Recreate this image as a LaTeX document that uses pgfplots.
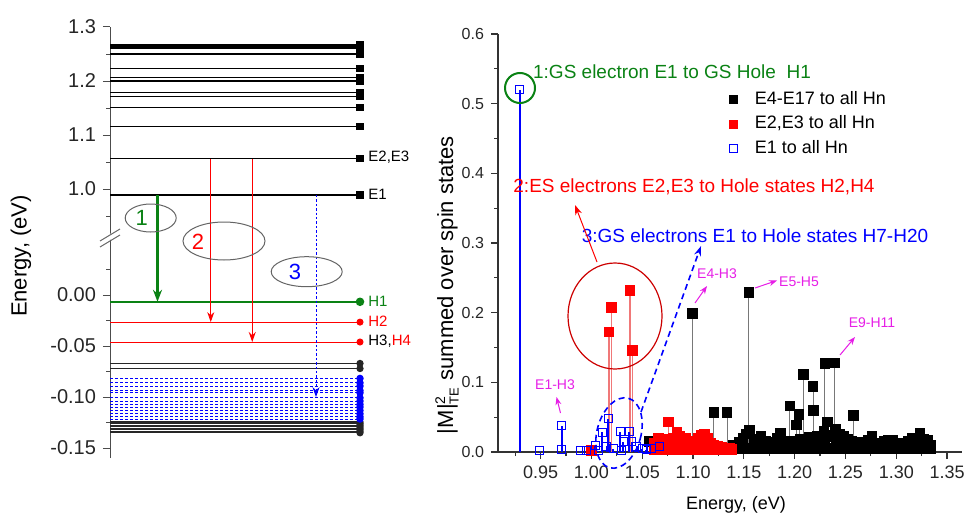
\documentclass[border=0pt]{standalone}
\usepackage{pgfplots}
\pgfplotsset{compat=1.18}
\usepackage{pgfplotstable}
\usepackage{fontspec}
\setmainfont{Liberation Sans}
\usetikzlibrary{arrows.meta}

\definecolor{dgreen}{RGB}{10,130,20}
\definecolor{mypink}{RGB}{230,30,230}
\definecolor{stemred}{RGB}{240,120,120}
\definecolor{stemgray}{RGB}{120,120,120}
\definecolor{ellgray}{RGB}{100,100,100}

% ---------- left panel: energy levels (eV) ----------
\pgfplotstableread[header=true]{
pos level
1 1.2675
1 1.2662
1 1.2649
1 1.2636
1 1.2623
1 1.2610
1 1.2597
1 1.2500
1 1.2230
1 1.2060
1 1.2000
1 1.1780
1 1.1720
1 1.1510
1 1.1160
1 1.0560
1 0.9890
}\elevels

\pgfplotstableread[header=true]{
pos level
1 -0.0265
1 -0.0460
}\hred

\pgfplotstableread[header=true]{
pos level
1 -0.0670
1 -0.0720
1 -0.1245
1 -0.1260
1 -0.1275
1 -0.1290
1 -0.1305
1 -0.1320
1 -0.1335
1 -0.1350
}\hblack

\pgfplotstableread[header=true]{
pos level
1 -0.0817
1 -0.0860
1 -0.0892
1 -0.0935
1 -0.0958
1 -0.1007
1 -0.1039
1 -0.1072
1 -0.1098
1 -0.1131
1 -0.1164
1 -0.1193
1 -0.1215
}\hblue

% ---------- right panel: |M|^2 vs transition energy ----------
\pgfplotstableread{
x y
1.1380 0.005
1.1420 0.005
1.1460 0.005
1.1500 0.005
1.1540 0.005
1.1580 0.005
1.1620 0.005
1.1660 0.005
1.1700 0.005
1.1740 0.005
1.1780 0.005
1.1820 0.005
1.1860 0.005
1.1900 0.005
1.1940 0.005
1.1980 0.005
1.2020 0.005
1.2060 0.005
1.2100 0.005
1.2140 0.005
1.2180 0.005
1.2220 0.005
1.2260 0.005
1.2300 0.005
1.2340 0.005
1.2380 0.005
1.2420 0.005
1.2460 0.005
1.2500 0.005
1.2540 0.005
1.2580 0.005
1.2620 0.005
1.2660 0.005
1.2700 0.005
1.2740 0.005
1.2780 0.005
1.2820 0.005
1.2860 0.005
1.2900 0.005
1.2940 0.005
1.2980 0.005
1.3020 0.005
1.3060 0.005
1.3100 0.005
1.3140 0.005
1.3180 0.005
1.3220 0.005
1.3260 0.005
1.3300 0.005
1.3340 0.005
1.1400 0.010
1.1450 0.014
1.1490 0.020
1.1520 0.026
1.1555 0.031
1.1600 0.018
1.1640 0.014
1.1670 0.022
1.1710 0.015
1.1750 0.012
1.1790 0.014
1.1830 0.020
1.1860 0.027
1.1900 0.015
1.1940 0.012
1.1980 0.016
1.2020 0.014
1.2060 0.018
1.2100 0.013
1.2140 0.021
1.2180 0.016
1.2220 0.022
1.2260 0.019
1.2290 0.030
1.2300 0.018
1.2325 0.043
1.2330 0.022
1.2360 0.024
1.2400 0.032
1.2410 0.018
1.2440 0.026
1.2480 0.022
1.2520 0.018
1.2560 0.016
1.2600 0.014
1.2640 0.012
1.2680 0.014
1.2720 0.017
1.2760 0.022
1.2800 0.012
1.2840 0.010
1.2880 0.016
1.2920 0.017
1.2960 0.017
1.3000 0.012
1.3040 0.010
1.3080 0.012
1.3120 0.016
1.3160 0.019
1.3200 0.013
1.3233 0.027
1.3240 0.015
1.3270 0.018
1.3310 0.017
1.3340 0.010
1.0572 0.015
1.0992 0.199
1.1204 0.057
1.1335 0.057
1.1549 0.229
1.1952 0.066
1.2018 0.039
1.2044 0.054
1.2084 0.111
1.2182 0.094
1.2185 0.060
1.2297 0.127
1.2389 0.128
1.2578 0.052
}\blackdata

\pgfplotstableread{
x y
1.0000 0.002
1.0172 0.172
1.0199 0.207
1.0380 0.232
1.0402 0.146
1.0620 0.004
1.0660 0.004
1.0700 0.004
1.0740 0.004
1.0780 0.004
1.0820 0.004
1.0860 0.004
1.0900 0.004
1.0940 0.004
1.0980 0.004
1.1020 0.004
1.1060 0.004
1.1100 0.004
1.1140 0.004
1.1180 0.004
1.1220 0.004
1.1260 0.004
1.1300 0.004
1.1340 0.004
1.1380 0.004
1.0620 0.012
1.0660 0.020
1.0700 0.018
1.0730 0.010
1.0757 0.043
1.0780 0.014
1.0810 0.020
1.0840 0.028
1.0850 0.016
1.0870 0.022
1.0900 0.016
1.0930 0.020
1.0960 0.014
1.0990 0.010
1.1020 0.015
1.1050 0.020
1.1080 0.024
1.1100 0.014
1.1110 0.026
1.1140 0.020
1.1170 0.013
1.1200 0.010
1.1240 0.008
1.1280 0.007
1.1320 0.006
1.1360 0.005
}\reddata

\pgfplotstableread{
x y
0.9296 0.520
0.9492 0.002
0.9707 0.003
0.9707 0.038
0.9887 0.002
0.9953 0.002
1.0040 0.010
1.0067 0.002
1.0106 0.028
1.0150 0.008
1.0166 0.048
1.0215 0.005
1.0281 0.029
1.0300 0.002
1.0314 0.015
1.0370 0.029
1.0396 0.015
1.0445 0.008
1.0500 0.005
1.0540 0.003
1.0590 0.005
1.0670 0.008
}\bluedata

\begin{document}
\begin{tikzpicture}
\useasboundingbox (0,0) rectangle (489pt,257.5pt);

% ================= LEFT PANEL =================
\begin{axis}[
  at={(55pt,28.5pt)}, anchor=south west,
  scale only axis, width=125pt, height=215.5pt,
  xmin=0, xmax=1, ymin=-0.1597, ymax=1.3,
  y coord trafo/.code={\pgfmathparse{(#1)>0.5 ? 540*(#1)-271 : 163+1020*(#1)}},
  axis x line=none, axis y line*=left,
  ytick={-0.15,-0.1,-0.05,0,1,1.1,1.2,1.3},
  yticklabels={-0.15,-0.10,-0.05,0.00,1.0,1.1,1.2,1.3},
  minor ytick={-0.125,-0.075,-0.025,0.025,0.95,1.05,1.15,1.25},
  tick align=outside, major tick length=3.5pt, minor tick length=2pt,
  axis line style={line width=0.5pt, black!70},
  every tick/.style={line width=0.5pt, black!70},
  yticklabel style={font=\fontsize{10}{12}\selectfont, text=black!85},
  /pgf/number format/assume math mode=true,
  clip=false,
]
\addplot[xcomb, black, line width=0.6pt, mark=square*, mark size=1.5pt, mark options={solid}] table[x=pos, y=level] {\elevels};
\addplot[xcomb, black!85, line width=0.6pt, mark=*, mark size=1.5pt] table[x=pos, y=level] {\hblack};
\addplot[xcomb, blue, line width=0.5pt, dash pattern=on 1.5pt off 1pt, mark=*, mark size=1.6pt, mark options={solid}] table[x=pos, y=level] {\hblue};
\addplot[xcomb, red, line width=0.5pt, mark=*, mark size=1.5pt] table[x=pos, y=level] {\hred};
\addplot[xcomb, dgreen, line width=1.2pt, mark=*, mark size=1.5pt] coordinates {(1,-0.0066)};
% transitions
\addplot[dgreen, line width=1.1pt, -{Stealth[length=6pt,width=4.5pt]}] coordinates {(0.19,0.989) (0.19,-0.0066)};
\addplot[red, line width=0.5pt, -{Stealth[length=5pt,width=3.5pt]}] coordinates {(0.403,1.056) (0.403,-0.0265)};
\addplot[red, line width=0.5pt, -{Stealth[length=5pt,width=3.5pt]}] coordinates {(0.569,1.056) (0.569,-0.046)};
\addplot[blue, line width=0.5pt, dash pattern=on 1.2pt off 1pt, -{Stealth[length=5pt,width=3.5pt]}] coordinates {(0.824,0.989) (0.824,-0.100)};
\end{axis}

% ================= RIGHT PANEL =================
\begin{axis}[
  at={(249pt,31.5pt)}, anchor=south west,
  scale only axis, width=232pt, height=209pt,
  xmin=0.908, xmax=1.3647, ymin=0, ymax=0.6,
  axis x line*=bottom, axis y line*=left,
  xtick={0.95,1.00,1.05,1.10,1.15,1.20,1.25,1.30,1.35},
  xticklabels={0.95,1.00,1.05,1.10,1.15,1.20,1.25,1.30,1.35},
  minor xtick={0.925,0.975,1.025,1.075,1.125,1.175,1.225,1.275,1.325},
  ytick={0,0.1,0.2,0.3,0.4,0.5,0.6},
  yticklabels={0.0,0.1,0.2,0.3,0.4,0.5,0.6},
  minor ytick={0.05,0.15,0.25,0.35,0.45,0.55},
  tick align=outside, major tick length=3.5pt, minor tick length=2pt,
  axis line style={line width=0.8pt, black!80},
  every tick/.style={line width=0.6pt, black!80},
  xticklabel style={font=\fontsize{9}{11}\selectfont, text=black!85},
  yticklabel style={font=\fontsize{8}{10}\selectfont, text=black!85},
  /pgf/number format/assume math mode=true,
  clip=false,
  legend style={draw=none, fill=none, at={(0.456,0.883)}, anchor=north west,
    font=\fontsize{9}{11}\selectfont, row sep=0.3pt},
  legend cell align=left,
  legend image code/.code={\path (0cm,0cm) (0.6cm,0cm); \draw[#1] plot coordinates {(0.3cm,0cm)};},
]
\addlegendimage{only marks, mark=square*, mark size=2pt, black}
\addlegendentry{E4-E17 to all Hn}
\addlegendimage{only marks, mark=square*, mark size=2pt, red}
\addlegendentry{E2,E3 to all Hn}
\addlegendimage{only marks, mark=square, mark size=2pt, blue, mark options={fill=white}}
\addlegendentry{E1 to all Hn}

\addplot[forget plot, ycomb, stemgray, line width=0.6pt, mark=square*, mark size=2.35pt,
  mark options={draw=black, fill=black}] table[x=x, y=y] {\blackdata};
\addplot[forget plot, ycomb, stemred, line width=0.7pt, mark=square*, mark size=2.3pt,
  mark options={draw=red, fill=red}] table[x=x, y=y] {\reddata};
\addplot[forget plot, ycomb, blue, line width=1.1pt, mark=square, mark size=2pt,
  mark options={draw=blue, fill=white, line width=0.5pt}] table[x=x, y=y] {\bluedata};
\end{axis}

% ================= ANNOTATIONS (pixel coordinates) =================
\begin{scope}[shift={(0pt,257.5pt)}, x=0.5pt, y=-0.5pt]
  % left y label
  \node[rotate=90, font=\fontsize{11}{13}\selectfont] at (21,256) {Energy, (eV)};
  % axis break marks
  \fill[white] (104,244) -- (116,236) -- (116,230) -- (104,238) -- cycle;
  \draw[black!60, line width=0.5pt] (100,241) -- (120,229);
  \draw[black!60, line width=0.5pt] (100,247) -- (120,235);
  % ellipses with numbers
  \draw[ellgray, line width=0.5pt] (150.7,218) ellipse [x radius=12.75pt, y radius=7pt];
  \node[dgreen, font=\fontsize{11}{13}\selectfont] at (141.7,218) {1};
  \draw[ellgray, line width=0.5pt] (224,241) ellipse [x radius=20.5pt, y radius=9.5pt];
  \node[red, font=\fontsize{11}{13}\selectfont] at (198,241.5) {2};
  \draw[ellgray, line width=0.5pt] (306.7,271.7) ellipse [x radius=17.75pt, y radius=7.5pt];
  \node[blue, font=\fontsize{11}{13}\selectfont] at (295,271.7) {3};
  % level labels
  \begin{scope}[every node/.style={anchor=west, font=\fontsize{7.5}{9}\selectfont, inner sep=0pt}]
    \node at (368,157) {E2,E3};
    \node at (368,194) {E1};
    \node[dgreen] at (368,301) {H1};
    \node[red] at (368,321) {H2};
    \node at (368,341) {H3,{\color{red}H4}};
  \end{scope}

  % right panel labels
  \node[rotate=90, font=\fontsize{11}{13}\selectfont] at (447,285)
    {|M|$^{\mbox{\fontsize{7}{8}\selectfont 2}}_{\mbox{\fontsize{6.5}{7}\selectfont TE}}$ summed over spin states};
  \node[font=\fontsize{9}{11}\selectfont] at (736,505) {Energy, (eV)};

  % big annotations
  \node[dgreen, font=\fontsize{9.5}{11}\selectfont] at (672,72) {1:GS electron E1 to GS Hole\ \ H1};
  \node[red, font=\fontsize{9.5}{11}\selectfont] at (694,187) {2:ES electrons E2,E3 to Hole states H2,H4};
  \node[blue, font=\fontsize{9.5}{11}\selectfont] at (755,236) {3:GS electrons E1 to Hole states H7-H20};

  % circles
  \draw[dgreen, line width=1pt] (520,88) circle [radius=7.5pt];
  \draw[red!80!black, line width=0.6pt] (615,316) ellipse [x radius=23.5pt, y radius=26.5pt];
  \draw[red, line width=0.5pt, -{Stealth[length=5pt,width=3.5pt]}] (597,262) -- (575,205);
  \draw[blue, line width=0.8pt, dash pattern=on 3pt off 2pt, rotate around={-15:(619,433)}] (619,433) ellipse [x radius=11pt, y radius=18pt];
  \draw[blue, line width=0.8pt, dash pattern=on 3pt off 2pt, -{Stealth[length=5pt,width=3.5pt]}] (641,412) -- (701,246);

  % pink labels
  \begin{scope}[every node/.style={mypink, font=\fontsize{7}{8}\selectfont}]
    \node at (555,385) {E1-H3};
    \node at (717,274) {E4-H3};
    \node at (799,282) {E5-H5};
    \node at (872,323) {E9-H11};
  \end{scope}
  \begin{scope}[mypink, line width=0.5pt, -{Stealth[length=4pt,width=3pt]}]
    \draw (560.5,413) -- (556.5,397);
    \draw (695,303) -- (707,286);
    \draw (755,288) -- (777,280.5);
    \draw (840,355) -- (855,337);
  \end{scope}
\end{scope}
\end{tikzpicture}
\end{document}
